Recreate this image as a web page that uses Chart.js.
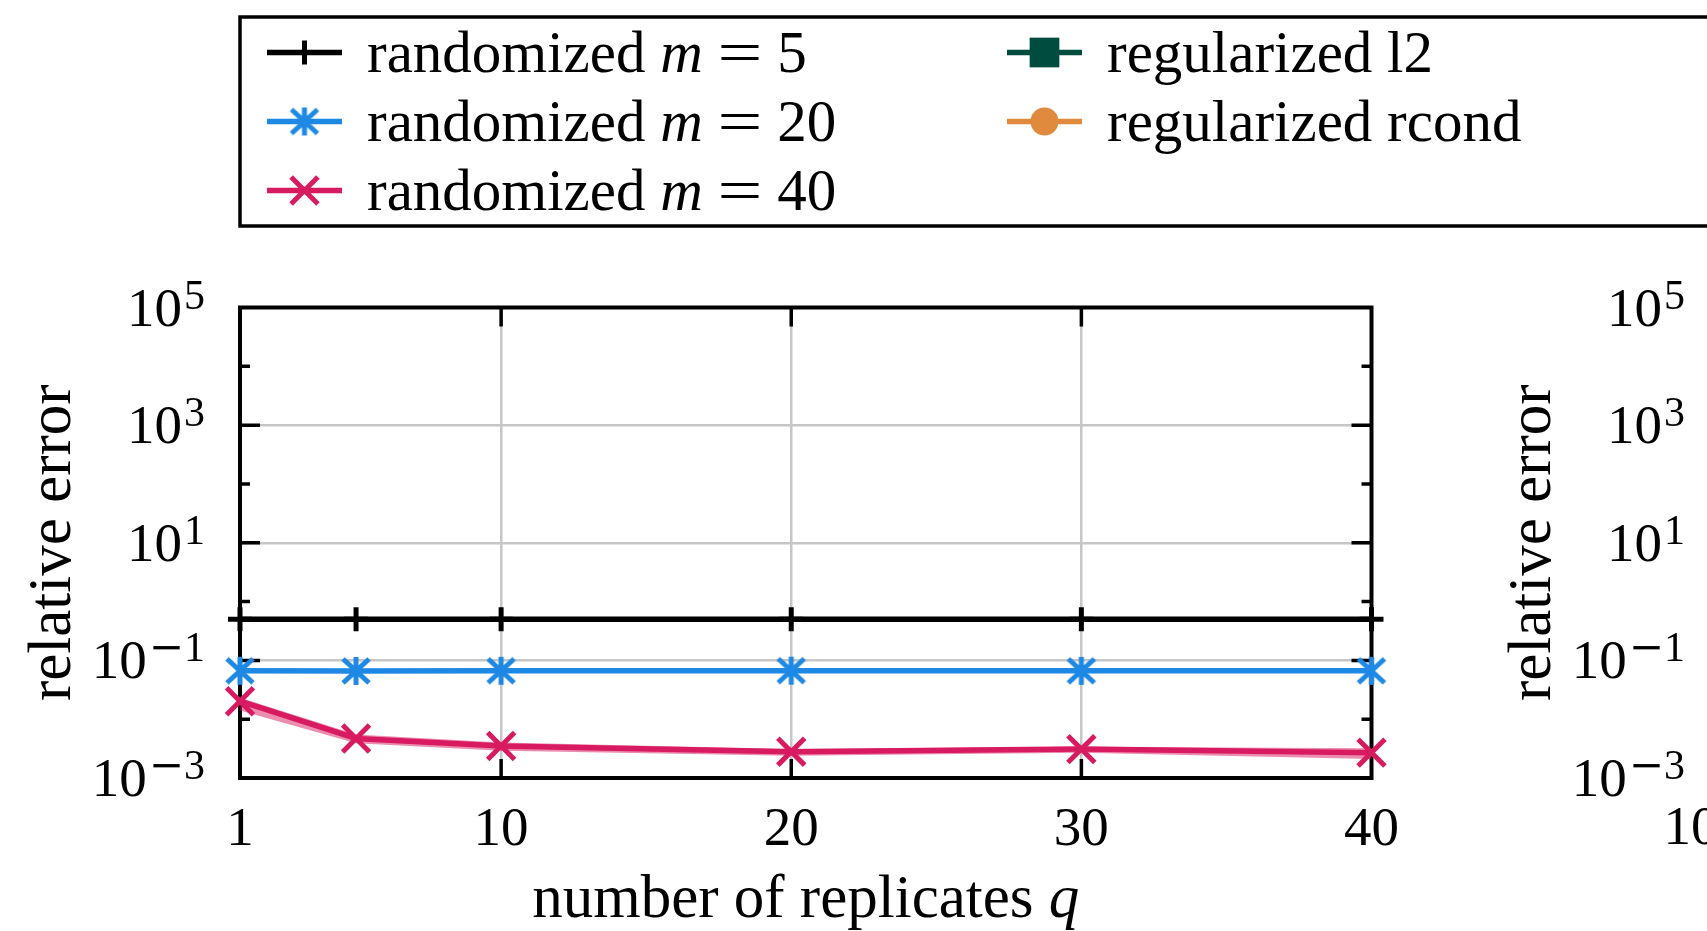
<!DOCTYPE html>
<html>
<head>
<meta charset="utf-8">
<title>relative error vs number of replicates</title>
<script src="https://cdn.jsdelivr.net/npm/chart.js@4/dist/chart.umd.min.js"></script>
<style>
  html, body { margin: 0; padding: 0; background: #fff; overflow: hidden; }
  .panel { position: absolute; top: 0; width: 1707px; height: 931px; }
</style>
</head>
<body>
<div class="panel" style="left:0"><canvas id="left"></canvas></div>
<div class="panel" style="left:1480px"><canvas id="right"></canvas></div>
<script>
// series
const replicates = [1, 5, 10, 20, 30, 40];
const seriesLabels = ['randomized m = 5', 'randomized m = 20', 'randomized m = 40', 'regularized l2', 'regularized rcond'];
const seriesColors = ['#000000', '#1e88e5', '#d81b60', '#004d40', '#e08a3e'];
const errM5 = [0.5, 0.5, 0.5, 0.5, 0.5, 0.5];
const errM20 = [0.0665, 0.0662, 0.0666, 0.0668, 0.0663, 0.0663];
const errM20Low = [0.0625, 0.0622, 0.0627, 0.0629, 0.0624, 0.0623];
const errM20High = [0.0705, 0.0702, 0.0705, 0.0707, 0.0703, 0.0704];
const errM40 = [0.0202, 0.0047, 0.0035, 0.0028, 0.0031, 0.0027];
const errM40Low = [0.0140, 0.0039, 0.0029, 0.0024, 0.0027, 0.0021];
const errM40High = [0.0232, 0.0055, 0.0040, 0.0031, 0.0034, 0.0032];
const errL2 = [];
const errRcond = [];

// axes
const xTicks = [1, 10, 20, 30, 40];
const yTickExps = [-3, -1, 1, 3, 5];
const yMinorExps = [-2, 0, 2, 4];
const rightXTickExps = [-2, -1, 0, 1, 2];

const FONT = '"Liberation Serif", "DejaVu Serif", serif';
const OPFONT = '"DejaVu Serif", serif';
const TICK = 55, SUP = 42, LEGEND = 59, TITLE = 61;
const mathVars = ['m', 'q'];
const OP_STRETCH = 1.35;
const GRID = '#c6c6c6';

function font(size, italic) {
  return (italic ? 'italic ' : '') + size + 'px ' + FONT;
}

function pts(ys) {
  return ys.map((v, i) => ({ x: replicates[i], y: v }));
}

// six-armed asterisk marker
function asterisk(color) {
  const c = document.createElement('canvas');
  c.width = 36; c.height = 36;
  const g = c.getContext('2d');
  g.strokeStyle = color;
  g.lineWidth = 5;
  g.beginPath();
  g.moveTo(18, 4); g.lineTo(18, 32);
  g.moveTo(5, 6); g.lineTo(31, 30);
  g.moveTo(31, 6); g.lineTo(5, 30);
  g.stroke();
  return c;
}

// text with math variables in italics and a widened "="
function drawRich(ctx, text, x, y, size, align) {
  const words = text.split(' ');
  ctx.font = font(size);
  const space = ctx.measureText(' ').width;
  const widths = words.map(w => {
    ctx.font = font(size, mathVars.includes(w));
    return ctx.measureText(w).width * (w === '=' ? OP_STRETCH : 1);
  });
  const total = widths.reduce((s, w) => s + w, 0) + space * (words.length - 1);
  let cx = align === 'center' ? x - total / 2 : x;
  ctx.textAlign = 'left';
  ctx.textBaseline = 'alphabetic';
  words.forEach((w, i) => {
    ctx.font = font(size, mathVars.includes(w));
    if (w === '=') {
      ctx.save();
      ctx.translate(cx, y);
      ctx.scale(OP_STRETCH, 1);
      ctx.fillText(w, 0, 0);
      ctx.restore();
    } else {
      ctx.fillText(w, cx, y);
    }
    cx += widths[i] + space;
  });
}

// "10" with a raised exponent, digits centred on y
function drawPow(ctx, exp, x, y, align) {
  const minus = exp < 0 ? '\u2212' : '';
  const digits = String(Math.abs(exp));
  const minusFont = SUP + 'px ' + OPFONT;
  ctx.font = font(TICK);
  const wb = ctx.measureText('10').width;
  ctx.font = minusFont;
  const wm = minus ? ctx.measureText(minus).width : 0;
  ctx.font = font(SUP);
  const wd = ctx.measureText(digits).width;
  const total = wb + 2 + wm + wd;
  const left = align === 'right' ? x - total : x - total / 2;
  ctx.textAlign = 'left';
  ctx.textBaseline = 'alphabetic';
  ctx.font = font(TICK);
  ctx.fillText('10', left, y + 18);
  if (minus) {
    ctx.font = minusFont;
    ctx.fillText(minus, left + wb + 2, y + 1);
  }
  ctx.font = font(SUP);
  ctx.fillText(digits, left + wb + 2 + wm, y + 1);
}

function drawMarker(ctx, ds, cx, cy) {
  const st = ds.pointStyle, r = ds.pointRadius;
  ctx.save();
  ctx.translate(cx, cy);
  ctx.strokeStyle = ds.borderColor;
  ctx.fillStyle = ds.borderColor;
  ctx.lineWidth = ds.pointBorderWidth || 1;
  ctx.beginPath();
  if (st instanceof HTMLCanvasElement) {
    ctx.drawImage(st, -st.width / 2, -st.height / 2);
  } else if (st === 'cross') {
    ctx.moveTo(-r, 0); ctx.lineTo(r, 0);
    ctx.moveTo(0, -r); ctx.lineTo(0, r);
    ctx.stroke();
  } else if (st === 'crossRot') {
    const d = r * Math.SQRT1_2;
    ctx.moveTo(-d, -d); ctx.lineTo(d, d);
    ctx.moveTo(d, -d); ctx.lineTo(-d, d);
    ctx.stroke();
  } else if (st === 'rect') {
    const s = r * Math.SQRT1_2;
    ctx.fillRect(-s, -s, 2 * s, 2 * s);
  } else {
    ctx.arc(0, 0, r, 0, Math.PI * 2);
    ctx.fill();
  }
  ctx.restore();
}

// frame, inner tick marks, tick labels and axis titles
const decor = {
  id: 'decor',
  beforeDatasetsDraw(chart) {
    const { ctx, chartArea: a, scales: { x, y } } = chart;
    ctx.save();
    ctx.strokeStyle = '#000';
    ctx.lineWidth = 3.5;
    ctx.beginPath();
    x.ticks.slice(1, -1).forEach(t => {
      const px = x.getPixelForValue(t.value);
      ctx.moveTo(px, a.bottom); ctx.lineTo(px, a.bottom - 19);
      ctx.moveTo(px, a.top); ctx.lineTo(px, a.top + 19);
    });
    y.ticks.slice(1, -1).forEach(t => {
      const py = y.getPixelForValue(t.value);
      ctx.moveTo(a.left, py); ctx.lineTo(a.left + 20, py);
      ctx.moveTo(a.right, py); ctx.lineTo(a.right - 20, py);
    });
    yMinorExps.forEach(e => {
      const py = y.getPixelForValue(Math.pow(10, e));
      ctx.moveTo(a.left, py); ctx.lineTo(a.left + 10, py);
      ctx.moveTo(a.right, py); ctx.lineTo(a.right - 10, py);
    });
    ctx.stroke();
    ctx.lineWidth = 4;
    ctx.strokeRect(a.left, a.top, a.right - a.left, a.bottom - a.top);
    ctx.restore();
  },
  afterDraw(chart, args, opts) {
    const { ctx, chartArea: a, scales: { x, y } } = chart;
    ctx.save();
    ctx.fillStyle = '#000';
    y.ticks.forEach((t, i) => drawPow(ctx, yTickExps[i], a.left - 35, y.getPixelForValue(t.value), 'right'));
    x.ticks.forEach((t, i) => {
      const px = x.getPixelForValue(t.value);
      if (opts.pow) {
        drawPow(ctx, opts.labels[i], px, a.bottom + 48, 'center');
      } else {
        ctx.font = font(TICK);
        ctx.textAlign = 'center';
        ctx.textBaseline = 'alphabetic';
        ctx.fillText(String(opts.labels[i]), px, a.bottom + 67);
      }
    });
    if (opts.xTitle) drawRich(ctx, opts.xTitle, (a.left + a.right) / 2, a.bottom + 139, TITLE, 'center');
    ctx.translate(a.left - 170, (a.top + a.bottom) / 2);
    ctx.rotate(-Math.PI / 2);
    drawRich(ctx, opts.yTitle, 0, 0, TITLE, 'center');
    ctx.restore();
  }
};

// boxed legend, filled column by column
const boxLegend = {
  id: 'boxLegend',
  afterDraw(chart) {
    const ctx = chart.ctx;
    const items = chart.data.datasets.filter(d => d.label);
    const colX = [267, 1007];
    ctx.save();
    ctx.strokeStyle = '#000';
    ctx.lineWidth = 3.5;
    ctx.strokeRect(240, 17, 1500, 209);
    items.forEach((ds, i) => {
      const x0 = colX[Math.floor(i / 3)];
      const cy = 52.5 + 69 * (i % 3);
      ctx.strokeStyle = ds.borderColor;
      ctx.lineWidth = ds.borderWidth;
      ctx.beginPath();
      ctx.moveTo(x0, cy); ctx.lineTo(x0 + 75, cy);
      ctx.stroke();
      drawMarker(ctx, ds, x0 + 37.5, cy);
      ctx.fillStyle = '#000';
      drawRich(ctx, ds.label, x0 + 100, cy + 19, LEGEND, 'left');
    });
    ctx.restore();
  }
};

function gridColor(c) {
  const n = c.scale.ticks.length;
  return c.index > 0 && c.index < n - 1 ? GRID : 'rgba(0,0,0,0)';
}

function yScale() {
  return {
    type: 'logarithmic', min: 1e-3, max: 1e5,
    afterBuildTicks: s => { s.ticks = yTickExps.map(e => ({ value: Math.pow(10, e) })); },
    ticks: { display: false },
    grid: { drawTicks: false, lineWidth: 2.5, color: gridColor },
    border: { display: false }
  };
}

const pad = { left: 240, right: 335.5, top: 307.5, bottom: 153 };

function line(i, data, style, radius) {
  return {
    label: seriesLabels[i], data: data,
    borderColor: seriesColors[i], backgroundColor: seriesColors[i],
    borderWidth: 5.5, pointStyle: style, pointRadius: radius,
    pointBorderWidth: 5, pointBorderColor: seriesColors[i], pointBackgroundColor: seriesColors[i],
    tension: 0, fill: false, clip: false, order: 0
  };
}

function band(data, color, target) {
  return {
    data: data, borderColor: 'rgba(0,0,0,0)', borderWidth: 0, pointRadius: 0,
    backgroundColor: color, fill: target, tension: 0, order: 5
  };
}

new Chart(document.getElementById('left'), {
  type: 'line',
  data: {
    datasets: [
      line(0, pts(errM5), 'cross', 12),
      line(1, pts(errM20), asterisk(seriesColors[1]), 14),
      line(2, pts(errM40), 'crossRot', 19),
      line(3, errL2, 'rect', 21),
      line(4, errRcond, 'circle', 14),
      band(pts(errM20Low), 'rgba(30,136,229,0.3)', false),
      band(pts(errM20High), 'rgba(30,136,229,0.3)', 5),
      band(pts(errM40Low), 'rgba(216,27,96,0.5)', false),
      band(pts(errM40High), 'rgba(216,27,96,0.5)', 7)
    ]
  },
  options: {
    responsive: true, maintainAspectRatio: false, animation: false,
    layout: { padding: pad },
    plugins: {
      legend: { display: false }, tooltip: { enabled: false },
      decor: { labels: xTicks, pow: false, xTitle: 'number of replicates q', yTitle: 'relative error' }
    },
    scales: {
      x: {
        type: 'linear', min: 1, max: 40,
        afterBuildTicks: s => { s.ticks = xTicks.map(v => ({ value: v })); },
        ticks: { display: false },
        grid: { drawTicks: false, lineWidth: 2.5, color: gridColor },
        border: { display: false }
      },
      y: yScale()
    }
  },
  plugins: [decor, boxLegend]
});

// neighbouring panel, sharing the error axis
new Chart(document.getElementById('right'), {
  type: 'line',
  data: { datasets: [] },
  options: {
    responsive: true, maintainAspectRatio: false, animation: false,
    layout: { padding: pad },
    plugins: {
      legend: { display: false }, tooltip: { enabled: false },
      decor: { labels: rightXTickExps, pow: true, xTitle: '', yTitle: 'relative error' }
    },
    scales: {
      x: {
        type: 'logarithmic', min: 1e-2, max: 1e2,
        afterBuildTicks: s => { s.ticks = rightXTickExps.map(e => ({ value: Math.pow(10, e) })); },
        ticks: { display: false },
        grid: { drawTicks: false, lineWidth: 2.5, color: gridColor },
        border: { display: false }
      },
      y: yScale()
    }
  },
  plugins: [decor]
});
</script>
</body>
</html>
